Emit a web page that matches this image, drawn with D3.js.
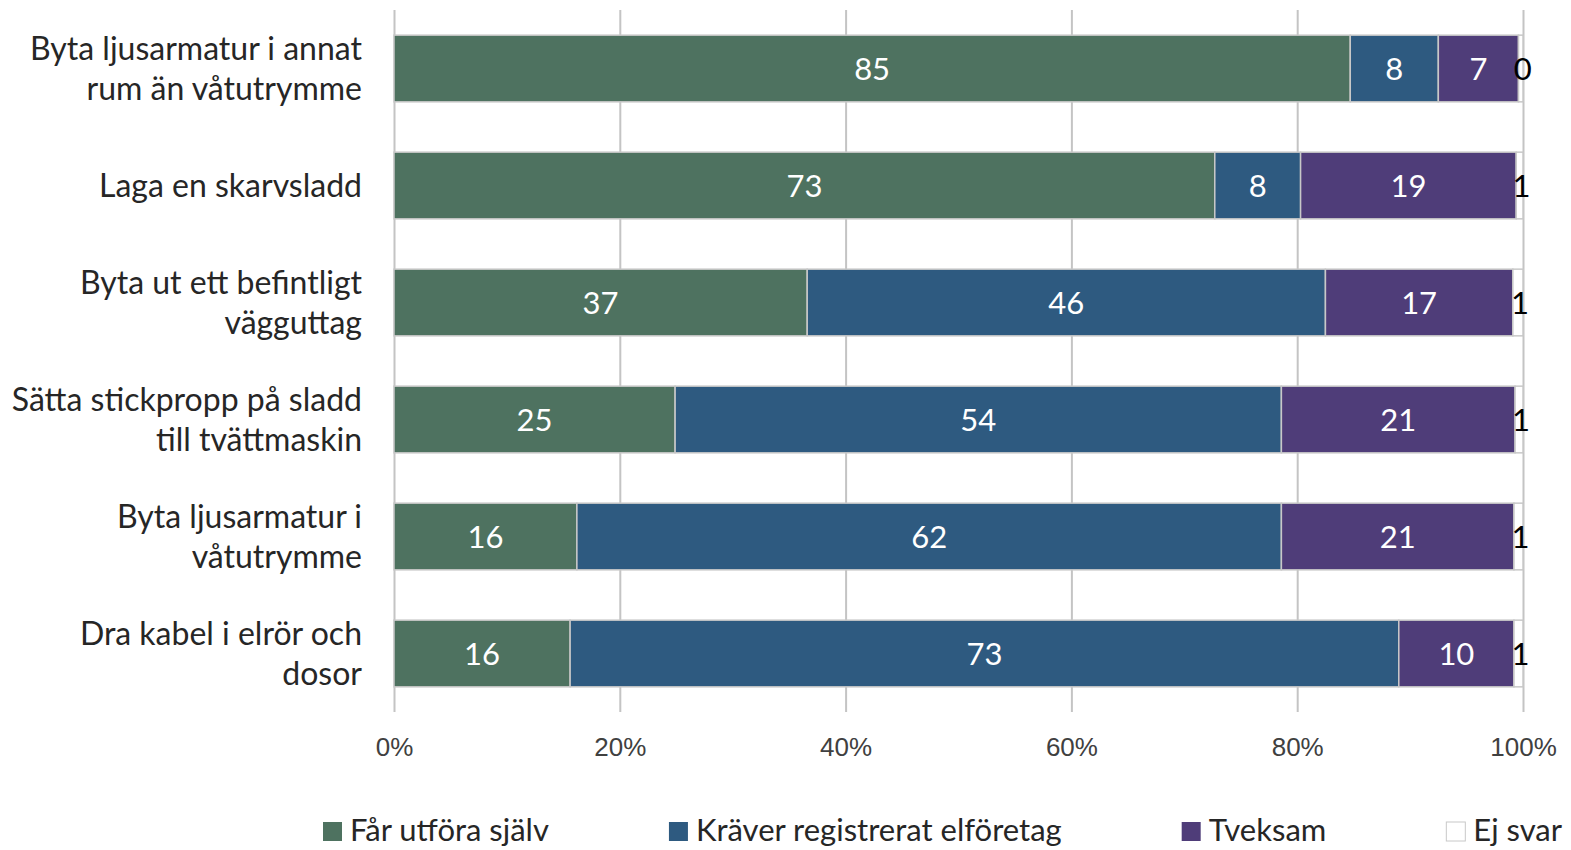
<!DOCTYPE html>
<html>
<head>
<meta charset="utf-8">
<style>
body { margin: 0; background: #fff; }
svg { display: block; font-family: Lato, "Open Sans", sans-serif; }
.cat text { font-size: 32px; fill: #262626; text-anchor: end; }
.axis text { font-size: 26px; fill: #404040; }
.axis line { stroke: #c4c4c4; stroke-width: 2px; }
.axis .domain { display: none; }
.seg { stroke: #c8c8c8; stroke-width: 1.5px; }
.val { font-size: 31px; text-anchor: middle; }
.legend text { font-size: 31px; fill: #262626; }
</style>
</head>
<body>
<svg width="1571" height="850"></svg>
<script src="https://d3js.org/d3.v7.min.js"></script>
<script>

var categories = [
  "Byta ljusarmatur i annat\nrum än våtutrymme",
  "Laga en skarvsladd",
  "Byta ut ett befintligt\nvägguttag",
  "Sätta stickpropp på sladd\ntill tvättmaskin",
  "Byta ljusarmatur i\nvåtutrymme",
  "Dra kabel i elrör och\ndosor"
];

var series = ["Får utföra själv", "Kräver registrerat elföretag", "Tveksam", "Ej svar"];
var colors = ["#4e7260", "#2e5a80", "#4f3d79", "#ffffff"];
var labelColors = ["#ffffff", "#ffffff", "#ffffff", "#000000"];

// percent per answer (labels are rounded)
var farUtfora = [84.7, 72.7, 36.6, 24.9, 16.2, 15.6];
var kraver    = [7.8, 7.6, 45.9, 53.7, 62.4, 73.4];
var tveksam   = [7.1, 19.1, 16.6, 20.7, 20.6, 10.2];
var ejSvar    = [0.4, 0.6, 0.9, 0.7, 0.8, 0.8];

var tickValues = [0, 20, 40, 60, 80, 100];

var table = categories.map(function(c, i) {
  var row = { cat: c };
  row[series[0]] = farUtfora[i];
  row[series[1]] = kraver[i];
  row[series[2]] = tveksam[i];
  row[series[3]] = ejSvar[i];
  return row;
});

var svg = d3.select("svg");

var x = d3.scaleLinear().domain([0, 100]).range([394, 1523]);
var y = d3.scaleBand().domain(categories).range([10, 712])
    .paddingInner(0.43).paddingOuter(0.215);

// grid lines + tick labels
svg.append("g")
    .attr("class", "axis")
    .attr("transform", "translate(0,712)")
    .call(d3.axisBottom(x)
      .tickValues(tickValues)
      .tickFormat(function(d) { return d + "%"; })
      .tickSize(-702)
      .tickPadding(26));

var stacked = d3.stack().keys(series)(table);

var layer = svg.append("g").selectAll("g")
    .data(stacked)
  .enter().append("g")
    .attr("fill", function(d, i) { return colors[i]; });

layer.selectAll("rect")
    .data(function(d) { return d; })
  .enter().append("rect")
    .attr("class", "seg")
    .attr("x", function(d) { return x(d[0]); })
    .attr("y", function(d) { return y(d.data.cat); })
    .attr("width", function(d) { return x(d[1]) - x(d[0]); })
    .attr("height", y.bandwidth());

layer.each(function(s, si) {
  d3.select(this).selectAll("text")
      .data(s)
    .enter().append("text")
      .attr("class", "val")
      .attr("fill", labelColors[si])
      .attr("x", function(d) { return (x(d[0]) + x(d[1])) / 2 + (si === 3 ? 2 : 0); })
      .attr("y", function(d) { return y(d.data.cat) + y.bandwidth() / 2; })
      .attr("dy", "0.36em")
      .text(function(d) { return Math.round(d[1] - d[0]); });
});

// category labels
var cat = svg.append("g").attr("class", "cat").selectAll("text")
    .data(categories)
  .enter().append("text")
    .attr("x", 362)
    .attr("y", function(d) { return y(d) + y.bandwidth() / 2 + 11; });

cat.each(function(d) {
  var lines = d.split("\n"),
      t = d3.select(this),
      top = -(lines.length - 1) * 20;
  lines.forEach(function(l, i) {
    t.append("tspan")
        .attr("x", 362)
        .attr("dy", i === 0 ? top : 40)
        .text(l);
  });
});

// legend
var legend = svg.append("g").attr("class", "legend");
var lx = 323;
series.forEach(function(s, i) {
  var g = legend.append("g").attr("transform", "translate(" + lx + ",0)");
  g.append("rect")
      .attr("x", 0).attr("y", 822)
      .attr("width", 19).attr("height", 19)
      .attr("fill", colors[i])
      .attr("stroke", i === 3 ? "#c8c8c8" : "none");
  var t = g.append("text").attr("x", 27).attr("y", 841).text(s);
  lx += 27 + t.node().getComputedTextLength() + 120;
});

</script>
</body>
</html>
